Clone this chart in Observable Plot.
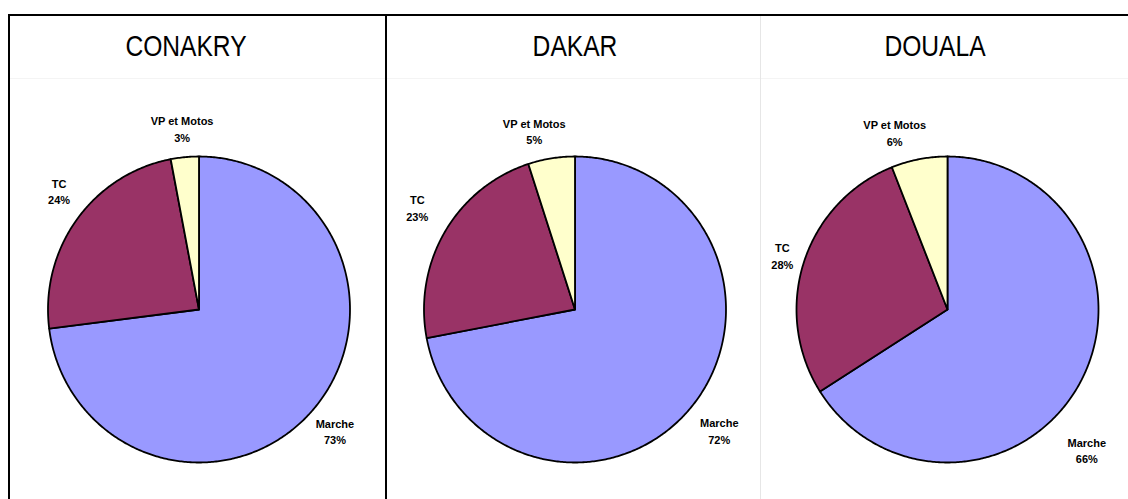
<!DOCTYPE html>
<html><head><meta charset="utf-8">
<script src="https://cdn.jsdelivr.net/npm/d3@7"></script>
<script src="https://cdn.jsdelivr.net/npm/@observablehq/plot@0.6"></script>
<style>
body{margin:0;background:#fff;font-family:"Liberation Sans",Arial,sans-serif;}
#frame{position:absolute;left:8px;top:14px;width:1130px;height:500px;border-top:2px solid #000;border-left:2px solid #000;display:flex;}
.panel{height:485px;position:relative;}
.title{height:62px;border-bottom:1px solid #f4f4f4;position:relative;}
.title span{position:absolute;top:15px;font-size:30px;line-height:30px;color:#000;transform:translateX(-50%) scaleX(0.82);white-space:nowrap;}
</style></head>
<body>
<div id="frame"></div>
<script>
const cities = ["CONAKRY", "DAKAR", "DOUALA"];
const modes = ["Marche", "TC", "VP et Motos"];
const conakry = [73, 24, 3];
const dakar = [72, 23, 5];
const douala = [66, 28, 6];
const colors = ["#9999FF", "#993366", "#FFFFCC"];

// layout settings (label angle nudges in degrees and label distance factors)
const labelShift = [[0, 4, 0], [0, 2, -4], [16, 0, -6]];
const labelDist = [[1.2, 1.21, 1.19], [1.24, 1.24, 1.2], [1.3, 1.15, 1.21]];
const titleCenters = [176, 188, 174];

const series = [conakry, dakar, douala];
const panelWidths = [375, 373, 370];
const panelBorders = ["2px solid #000", "1px solid #e6e6e6", "none"];
const frame = document.getElementById("frame");

cities.forEach((city, ci) => {
  const values = series[ci];
  const arcs = d3.pie().sort(null).value(d => d.value)(
    modes.map((m, i) => ({mode: m, value: values[i], color: colors[i]}))
  );
  const features = arcs.map(a => {
    const pts = [[0, 0]];
    const n = Math.max(2, Math.ceil((a.endAngle - a.startAngle) / 0.01));
    for (let k = 0; k <= n; k++) {
      const t = a.startAngle + (a.endAngle - a.startAngle) * k / n;
      pts.push([Math.sin(t), Math.cos(t)]);
    }
    pts.push([0, 0]);
    return {type: "Feature", properties: {mode: a.data.mode, color: a.data.color}, geometry: {type: "Polygon", coordinates: [pts]}};
  });
  const labels = arcs.map((a, i) => {
    const mid = (a.startAngle + a.endAngle) / 2 + labelShift[ci][i] * Math.PI / 180;
    const rr = labelDist[ci][i];
    return {x: rr * Math.sin(mid), y: rr * Math.cos(mid), text: a.data.mode + "\n" + a.data.value + "%"};
  });
  const w = panelWidths[ci], h = 421;
  const cx = w / 2 + 1, cy = 230, rx = 151, ry = 153;
  const proj = d3.geoTransform({point(x, y) { this.stream.point(cx + x * rx, cy - y * ry); }});
  const chart = Plot.plot({
    width: w,
    height: h,
    margin: 0,
    projection: proj,
    style: {background: "transparent", overflow: "visible"},
    marks: [
      Plot.geo(features, {fill: d => d.properties.color, stroke: "#000", strokeWidth: 1.8, strokeLinejoin: "round"}),
      Plot.text(labels, {x: "x", y: "y", text: "text", fontSize: 11, fontWeight: "bold", fill: "#000", lineHeight: 1.5, fontFamily: "Liberation Sans, Arial, sans-serif"})
    ]
  });
  const panel = document.createElement("div");
  panel.className = "panel";
  panel.style.width = w + "px";
  panel.style.borderRight = panelBorders[ci];
  const title = document.createElement("div");
  title.className = "title";
  const span = document.createElement("span");
  span.textContent = city;
  span.style.left = titleCenters[ci] + "px";
  title.appendChild(span);
  panel.appendChild(title);
  panel.appendChild(chart);
  frame.appendChild(panel);
});
</script>
</body></html>
